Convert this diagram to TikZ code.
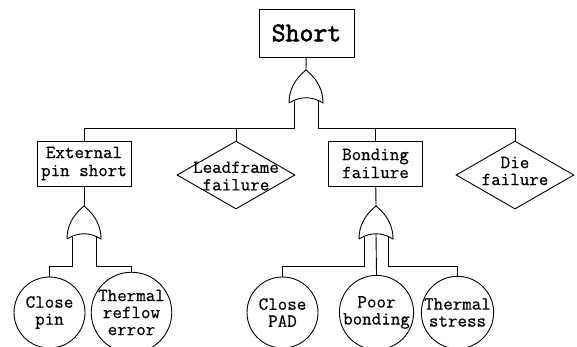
\documentclass[tikz,border=0pt]{standalone}
\usepackage{fontspec}
\usepackage{tikz}
\usetikzlibrary{shapes.geometric}
\newfontfamily\treefont{Latin Modern Mono}[FakeBold=0.6]
\newfontfamily\topfont{Latin Modern Mono}[FakeBold=2]

\tikzset{
  event/.style={draw, rectangle, minimum width=94pt, minimum height=45pt, inner sep=2pt, align=center},
  basic/.style={draw, circle, minimum size=71pt, inner sep=0pt, align=center, font=\treefont\fontsize{18.5}{17}\selectfont},
  undeveloped/.style={draw, diamond, minimum width=118pt, minimum height=68pt, inner sep=0pt},
  orgate/.pic={
    \draw (-17,33) .. controls (-17,15) and (-6,5) .. (0,0) .. controls (6,5) and (17,15) .. (17,33) .. controls (6,26) and (-6,26) .. (-17,33);
    \coordinate (-out) at (0,0);
    \coordinate (-left) at (-12,31);
    \coordinate (-mid) at (0,28);
    \coordinate (-right) at (12,31);
  }
}

\begin{document}
\begin{tikzpicture}[x=1pt, y=-1pt, line width=0.9pt, font=\treefont\fontsize{18.5}{18}\selectfont]
    \useasboundingbox (0,0) rectangle (577,346);

    % top event and its gate
    \node[event, minimum width=95pt, minimum height=48pt, font=\topfont\fontsize{27}{29}\selectfont] (short) at (306.5,33) {Short};
    \pic (g0) at (306,70) {orgate};
    \coordinate (bar0) at (0,128);

    % second level
    \node[event] (ext) at (84,163.5) {External\\pin short};
    \node[undeveloped, label={[align=center, yshift=-1pt, font=\treefont\fontsize{18.5}{17.5}\selectfont]center:Leadframe\\failure}] (lead) at (236,175) {};
    \node[event] (bond) at (375.5,163.5) {Bonding\\failure};
    \node[undeveloped, label={[align=center, yshift=4pt, font=\treefont\fontsize{18.5}{17}\selectfont]center:Die\\failure}] (die) at (515,175) {};

    % gates under the boxes
    \pic (g1) at (84,206) {orgate};
    \pic (g2) at (376,206) {orgate};
    \coordinate (bar1) at (0,266);

    % basic events
    \node[basic] (pin) at (49.5,312.5) {Close\\pin};
    \node[basic] (reflow) at (131.5,312.5) {Thermal\\reflow\\error};
    \node[basic] (pad) at (282.5,312.5) {Close\\PAD};
    \node[basic] (poor) at (376.5,312.5) {Poor\\bonding};
    \node[basic] (stress) at (457.5,312.5) {Thermal\\stress};

    % connectors
    \draw (short) -- (g0-out);
    \draw (g0-left) -- (g0-left |- bar0) -| (ext.north);
    \draw (lead.north |- bar0) -- (lead.north);
    \draw (g0-right) -- (g0-right |- bar0) -| (die.north);
    \draw (bond.north |- bar0) -- (bond.north);

    \draw (ext) -- (g1-out);
    \draw (g1-left) -- (g1-left |- bar1) -| (pin.north);
    \draw (g1-right) -- (g1-right |- bar1) -| (reflow.north);

    \draw (bond) -- (g2-out);
    \draw (g2-left) -- (g2-left |- bar1) -| (pad.north);
    \draw (g2-mid) -- (poor.north);
    \draw (g2-right) -- (g2-right |- bar1) -| (stress.north);
\end{tikzpicture}
\end{document}
